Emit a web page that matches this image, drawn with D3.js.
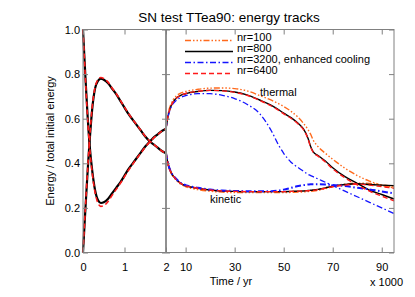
<!DOCTYPE html>
<html>
<head>
<meta charset="utf-8">
<script src="https://cdn.jsdelivr.net/npm/d3@7"></script>
<style>
  body { margin: 0; background: #fff; }
  text { font-family: "Liberation Sans", Arial, sans-serif; fill: #000; }
  .tick text { font-size: 11px; }
  .tick line { stroke: #808080; }
</style>
</head>
<body>
<div id="chart"></div>
<script>
// early phase, time in kyr (0-2)
var tLeft = [0, 0.16, 0.22, 0.29, 0.36, 0.43, 0.5, 0.6, 0.7, 0.8, 0.9, 1.0, 1.1, 1.2, 1.3, 1.4, 1.5, 1.6, 1.7, 1.8, 1.9, 2.0];
var thermal800Left = [1.0, 0.48, 0.37, 0.28, 0.235, 0.222, 0.225, 0.24, 0.265, 0.29, 0.315, 0.345, 0.375, 0.40, 0.425, 0.45, 0.475, 0.495, 0.515, 0.53, 0.545, 0.555];
var kinetic800Left = [0, 0.5, 0.64, 0.735, 0.77, 0.78, 0.775, 0.76, 0.735, 0.71, 0.68, 0.65, 0.62, 0.595, 0.57, 0.545, 0.52, 0.5, 0.485, 0.47, 0.455, 0.445];
var thermal6400Left = [1.0, 0.47, 0.36, 0.27, 0.222, 0.207, 0.21, 0.228, 0.256, 0.283, 0.31, 0.34, 0.37, 0.397, 0.423, 0.448, 0.473, 0.494, 0.513, 0.529, 0.544, 0.555];
var kinetic6400Left = [0, 0.51, 0.65, 0.74, 0.775, 0.785, 0.78, 0.765, 0.738, 0.712, 0.682, 0.652, 0.622, 0.596, 0.571, 0.546, 0.521, 0.501, 0.486, 0.47, 0.455, 0.445];

// late phase, time in kyr (2-95)
var tRight = [2, 3, 4, 6, 8, 10, 15, 20, 25, 30, 35, 40, 45, 48, 50, 53, 56, 58, 60, 61, 62, 64, 67, 70, 75, 80, 85, 90, 95];
var thermal100 = [0.555, 0.63, 0.665, 0.70, 0.715, 0.722, 0.732, 0.737, 0.738, 0.735, 0.725, 0.705, 0.683, 0.667, 0.655, 0.633, 0.605, 0.58, 0.55, 0.53, 0.505, 0.475, 0.445, 0.418, 0.378, 0.345, 0.32, 0.302, 0.29];
var thermal800 = [0.555, 0.62, 0.655, 0.69, 0.705, 0.712, 0.722, 0.727, 0.726, 0.72, 0.707, 0.685, 0.66, 0.64, 0.625, 0.605, 0.578, 0.555, 0.51, 0.475, 0.452, 0.435, 0.41, 0.38, 0.34, 0.31, 0.28, 0.26, 0.24];
var thermal3200 = [0.555, 0.615, 0.65, 0.68, 0.695, 0.703, 0.712, 0.712, 0.705, 0.69, 0.665, 0.625, 0.545, 0.48, 0.445, 0.405, 0.38, 0.365, 0.35, 0.345, 0.34, 0.33, 0.315, 0.30, 0.275, 0.25, 0.225, 0.20, 0.175];
var thermal6400 = [0.555, 0.62, 0.655, 0.69, 0.705, 0.713, 0.723, 0.727, 0.725, 0.718, 0.705, 0.683, 0.657, 0.637, 0.622, 0.602, 0.575, 0.552, 0.507, 0.472, 0.45, 0.432, 0.406, 0.375, 0.335, 0.303, 0.275, 0.253, 0.232];
var kinetic100 = [0.445, 0.39, 0.36, 0.328, 0.308, 0.297, 0.283, 0.276, 0.272, 0.27, 0.27, 0.27, 0.27, 0.27, 0.27, 0.271, 0.272, 0.273, 0.275, 0.276, 0.277, 0.28, 0.288, 0.297, 0.305, 0.31, 0.308, 0.302, 0.295];
var kinetic800 = [0.445, 0.39, 0.36, 0.33, 0.31, 0.30, 0.288, 0.28, 0.276, 0.274, 0.273, 0.273, 0.273, 0.273, 0.273, 0.274, 0.275, 0.276, 0.278, 0.279, 0.28, 0.283, 0.29, 0.297, 0.305, 0.308, 0.305, 0.302, 0.30];
var kinetic3200 = [0.445, 0.392, 0.362, 0.332, 0.312, 0.302, 0.29, 0.282, 0.278, 0.276, 0.275, 0.275, 0.275, 0.278, 0.282, 0.29, 0.298, 0.302, 0.305, 0.306, 0.306, 0.306, 0.305, 0.303, 0.298, 0.29, 0.283, 0.274, 0.265];
var kinetic6400 = [0.445, 0.39, 0.36, 0.33, 0.31, 0.30, 0.288, 0.28, 0.276, 0.274, 0.273, 0.273, 0.273, 0.273, 0.273, 0.274, 0.275, 0.276, 0.277, 0.278, 0.279, 0.282, 0.288, 0.295, 0.302, 0.307, 0.302, 0.295, 0.288];

var yTicks = [0, 0.2, 0.4, 0.6, 0.8, 1.0];
var xTicksLeft = [0, 1, 2];
var xTicksRight = [10, 30, 50, 70, 90];
var legendLabels = ["nr=100", "nr=800", "nr=3200, enhanced cooling", "nr=6400"];

var svgWidth = 415;
var svgHeight = 297;

// plot box edges (window.top is reserved, so use other names)
var plotLeft = 83, plotMid = 166, plotRight = 394, plotTop = 29.5, plotBottom = 252.5;

var svg = d3.select("#chart")
  .append("svg")
  .attr("width", svgWidth)
  .attr("height", svgHeight);

var xLeft = d3.scaleLinear().domain([0, 2]).range([plotLeft, plotMid]);
var xRight = d3.scaleLinear().domain([2, 95]).range([plotMid, plotRight]);
var y = d3.scaleLinear().domain([0, 1]).range([plotBottom, plotTop]);

// series styles: nr=100, nr=800, nr=3200, nr=6400
var styles = [
  { color: "#ff6a1c", dash: "6,2,1.5,2,1.5,2,1.5,2", width: 1.4 },
  { color: "#000000", dash: null, width: 1.4 },
  { color: "#1414ff", dash: "6,2.5,1.5,2.5", width: 1.3 },
  { color: "#ff1a1a", dash: "5,3", width: 1.4 }
];

function drawLine(xScale, times, values, st, w) {
  var pts = times.map(function(t, i) { return [t, values[i]]; });
  var line = d3.line()
    .x(function(d) { return xScale(d[0]); })
    .y(function(d) { return y(d[1]); })
    .curve(d3.curveMonotoneX);
  svg.append("path")
    .datum(pts)
    .attr("d", line)
    .attr("fill", "none")
    .attr("stroke", st.color)
    .attr("stroke-width", w || st.width)
    .attr("stroke-dasharray", st.dash);
}

// left panel (only 800 and 6400)
drawLine(xLeft, tLeft, thermal800Left, styles[1], 2.2);
drawLine(xLeft, tLeft, kinetic800Left, styles[1], 2.2);
drawLine(xLeft, tLeft, thermal6400Left, styles[3], 1.6);
drawLine(xLeft, tLeft, kinetic6400Left, styles[3], 1.6);

// right panel
drawLine(xRight, tRight, thermal100, styles[0]);
drawLine(xRight, tRight, kinetic100, styles[0], 2);
drawLine(xRight, tRight, thermal800, styles[1]);
drawLine(xRight, tRight, kinetic800, styles[1]);
drawLine(xRight, tRight, thermal3200, styles[2]);
drawLine(xRight, tRight, kinetic3200, styles[2], 2);
drawLine(xRight, tRight, thermal6400, styles[3]);
drawLine(xRight, tRight, kinetic6400, styles[3]);

// frame
svg.append("rect")
  .attr("x", plotLeft).attr("y", plotTop)
  .attr("width", plotRight - plotLeft).attr("height", plotBottom - plotTop)
  .attr("fill", "none").attr("stroke", "#808080").attr("stroke-width", 1);

svg.append("line")
  .attr("x1", plotMid).attr("x2", plotMid).attr("y1", plotTop).attr("y2", plotBottom)
  .attr("stroke", "#909090").attr("stroke-width", 2);

// axes
svg.append("g")
  .attr("transform", `translate(${plotLeft},0)`)
  .call(d3.axisLeft(y).tickValues(yTicks).tickSize(-5).tickPadding(3).tickFormat(d3.format(".1f")))
  .call(g => g.select(".domain").remove());

svg.append("g")
  .attr("transform", `translate(${plotRight},0)`)
  .call(d3.axisRight(y).tickValues(yTicks).tickSize(-5).tickFormat(""))
  .call(g => g.select(".domain").remove());

svg.append("g")
  .attr("transform", `translate(${plotMid},0)`)
  .call(d3.axisRight(y).tickValues(yTicks).tickSize(4).tickFormat(""))
  .call(g => g.select(".domain").remove())
  .selectAll(".tick line").attr("x1", -4);

svg.append("g")
  .attr("transform", `translate(0,${plotBottom})`)
  .call(d3.axisBottom(xLeft).tickValues(xTicksLeft).tickSize(-5).tickPadding(11).tickFormat(d3.format("d")))
  .call(g => g.select(".domain").remove());

svg.append("g")
  .attr("transform", `translate(0,${plotBottom})`)
  .call(d3.axisBottom(xRight).tickValues(xTicksRight).tickSize(-5).tickPadding(11).tickFormat(d3.format("d")))
  .call(g => g.select(".domain").remove());

svg.append("g")
  .attr("transform", `translate(0,${plotTop})`)
  .call(d3.axisTop(xLeft).tickValues(xTicksLeft).tickSize(-5).tickFormat(""))
  .call(g => g.select(".domain").remove());

svg.append("g")
  .attr("transform", `translate(0,${plotTop})`)
  .call(d3.axisTop(xRight).tickValues(xTicksRight).tickSize(-5).tickFormat(""))
  .call(g => g.select(".domain").remove());

// title and labels
svg.append("text")
  .attr("x", 229).attr("y", 22)
  .attr("text-anchor", "middle")
  .style("font-size", "13.5px")
  .text("SN test TTea90: energy tracks");

svg.append("text")
  .attr("transform", "translate(54,141) rotate(-90)")
  .attr("text-anchor", "middle")
  .style("font-size", "11px")
  .text("Energy / total initial energy");

svg.append("text")
  .attr("x", 231).attr("y", 285)
  .attr("text-anchor", "middle")
  .style("font-size", "11px")
  .text("Time / yr");

svg.append("text")
  .attr("x", 403).attr("y", 286)
  .attr("text-anchor", "end")
  .style("font-size", "11px")
  .text("x 1000");

svg.append("text")
  .attr("x", 260).attr("y", 96)
  .style("font-size", "11px")
  .text("thermal");

svg.append("text")
  .attr("x", 210).attr("y", 203)
  .style("font-size", "11px")
  .text("kinetic");

// legend
var legendY = [40.5, 51.5, 62.5, 73.5];
legendLabels.forEach(function(label, i) {
  svg.append("line")
    .attr("x1", 185).attr("x2", 233)
    .attr("y1", legendY[i]).attr("y2", legendY[i])
    .attr("stroke", styles[i].color)
    .attr("stroke-width", 1.4)
    .attr("stroke-dasharray", styles[i].dash);
  svg.append("text")
    .attr("x", 237).attr("y", legendY[i] + 0.5)
    .style("font-size", "11px")
    .text(label);
});
</script>
</body>
</html>
